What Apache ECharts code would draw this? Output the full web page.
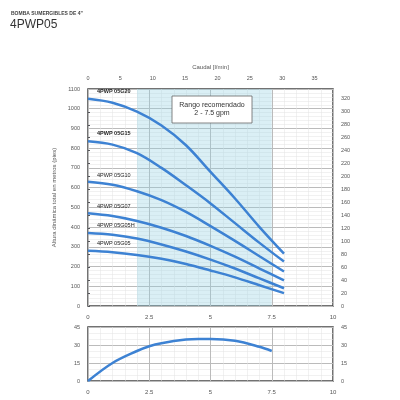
<!DOCTYPE html>
<html>
<head>
<meta charset="utf-8">
<script src="https://cdn.jsdelivr.net/npm/echarts@6/dist/echarts.min.js"></script>
<style>html,body{margin:0;background:#fff}#c{width:400px;height:400px}</style>
</head>
<body>
<div id="c"></div>
<script>
var flow = [0, 1, 2, 3, 4, 5, 6, 7, 8];
var g20 = [1050, 1030, 985, 915, 815, 680, 545, 400, 265];
var g15 = [835, 818, 775, 700, 612, 520, 420, 320, 225];
var g10 = [630, 615, 582, 537, 477, 405, 330, 252, 175];
var g07 = [470, 456, 431, 397, 355, 305, 250, 190, 130];
var g05h = [370, 361, 342, 312, 276, 235, 190, 140, 90];
var g05 = [280, 273, 259, 239, 213, 180, 145, 105, 65];
var effFlow = [0, 1, 2, 2.5, 3, 4, 4.5, 5, 6, 7, 7.5];
var eff = [0, 15, 25, 29, 31.5, 34.5, 35, 35, 33.5, 28.5, 25];
var names = ['4PWP 05G20', '4PWP 05G15', '4PWP 05G10', '4PWP 05G07', '4PWP 05G05H', '4PWP 05G05'];
var curves = [g20, g15, g10, g07, g05h, g05];

var blue = '#3d82d3';
var tc = '#555';
var ax = {fontSize: 6, color: tc};
function pairs(xs, ys) { return xs.map(function (x, i) { return [x, ys[i]]; }); }

var series = curves.map(function (c, i) {
  return {type: 'line', name: names[i], data: pairs(flow, c), smooth: 0.35, symbol: 'none',
    lineStyle: {color: blue, width: 2.5}, xAxisIndex: 0, yAxisIndex: 0};
});
series[0].markArea = {silent: true, itemStyle: {color: 'rgba(150,210,225,0.35)'}, data: [[{xAxis: 2}, {xAxis: 7.5}]]};
series.push({type: 'line', data: pairs(effFlow, eff), smooth: 0.35, symbol: 'none',
  lineStyle: {color: blue, width: 2.5}, xAxisIndex: 2, yAxisIndex: 2});

var split = {show: true, lineStyle: {color: '#bbb', width: 1}};
var minor = {show: true, splitNumber: 5, lineStyle: {color: '#e2e2e2', width: 0.5}};
var labelPos = [[97, 88], [97, 130], [97, 172], [97, 203], [97, 222], [97, 240]];
var plain = function (v) { return String(v); };

var chart = echarts.init(document.getElementById('c'));
chart.setOption({
  animation: false,
  title: [
    {text: 'BOMBA SUMERGIBLES DE 4"', left: 6, top: 6, textStyle: {fontSize: 5, fontWeight: 'bold', color: '#444'}},
    {text: '4PWP05', left: 5, top: 14, textStyle: {fontSize: 12, fontWeight: 'normal', color: '#333'}}
  ],
  grid: [
    {left: 88, right: 67, top: 89, height: 217, show: true, borderColor: '#444', borderWidth: 1.5},
    {left: 88, right: 67, top: 327, height: 54, show: true, borderColor: '#444', borderWidth: 1.5}
  ],
  xAxis: [
    {gridIndex: 0, type: 'value', min: 0, max: 10, interval: 2.5, axisLabel: ax, axisTick: {show: false},
      axisLine: {show: false}, splitLine: split, minorTick: {show: false, splitNumber: 5}, minorSplitLine: minor},
    {gridIndex: 0, type: 'value', position: 'top', min: 0, max: 37.85, interval: 5, name: 'Caudal [l/min]',
      nameLocation: 'middle', nameGap: 10, nameTextStyle: {fontSize: 6, color: tc},
      axisLabel: {fontSize: 5.5, color: tc, showMaxLabel: false}, axisTick: {show: false}, axisLine: {show: false}, splitLine: {show: false}},
    {gridIndex: 1, type: 'value', min: 0, max: 10, interval: 2.5, axisLabel: ax, axisTick: {show: false},
      axisLine: {show: false}, splitLine: split, minorSplitLine: minor, minorTick: {show: false, splitNumber: 5}}
  ],
  yAxis: [
    {gridIndex: 0, type: 'value', min: 0, max: 1100, interval: 100, axisLabel: {fontSize: 5.5, color: tc, formatter: plain},
      name: 'Altura dinámica total en metros (pies)', nameLocation: 'middle', nameGap: 22,
      nameTextStyle: {fontSize: 6, color: tc}, axisTick: {show: false}, axisLine: {show: false},
      splitLine: split, minorTick: {show: false, splitNumber: 5}, minorSplitLine: minor},
    {gridIndex: 0, type: 'value', position: 'right', min: 0, max: 335.28, interval: 20,
      axisLabel: {fontSize: 5.5, color: tc, showMaxLabel: false}, axisTick: {show: true, length: 2},
      axisLine: {show: false}, splitLine: {show: false}},
    {gridIndex: 1, type: 'value', min: 0, max: 45, interval: 15, axisLabel: {fontSize: 5.5, color: tc},
      axisTick: {show: false}, axisLine: {show: false}, splitLine: split, minorSplitLine: minor, minorTick: {show: false, splitNumber: 3}},
    {gridIndex: 1, type: 'value', position: 'right', min: 0, max: 45, interval: 15, axisLabel: {fontSize: 5.5, color: tc},
      axisTick: {show: false}, axisLine: {show: false}, splitLine: {show: false}}
  ],
  graphic: names.map(function (n, i) {
    return {type: 'text', left: labelPos[i][0], top: labelPos[i][1], z: 12,
      style: {text: n, fontSize: 5.5, fontWeight: i < 2 ? 'bold' : 'normal', fill: '#222'}};
  }).concat([
    {type: 'rect', shape: {x: 172, y: 96, width: 80, height: 27}, style: {fill: '#fff', stroke: '#666', lineWidth: 0.8}, z: 10},
    {type: 'text', x: 212, y: 109.5, z: 11, style: {text: 'Rango recomendado\n2 - 7.5 gpm', fontSize: 7, fill: '#333', align: 'center', verticalAlign: 'middle', lineHeight: 8}}
  ]),
  series: series
});
</script>
</body>
</html>
